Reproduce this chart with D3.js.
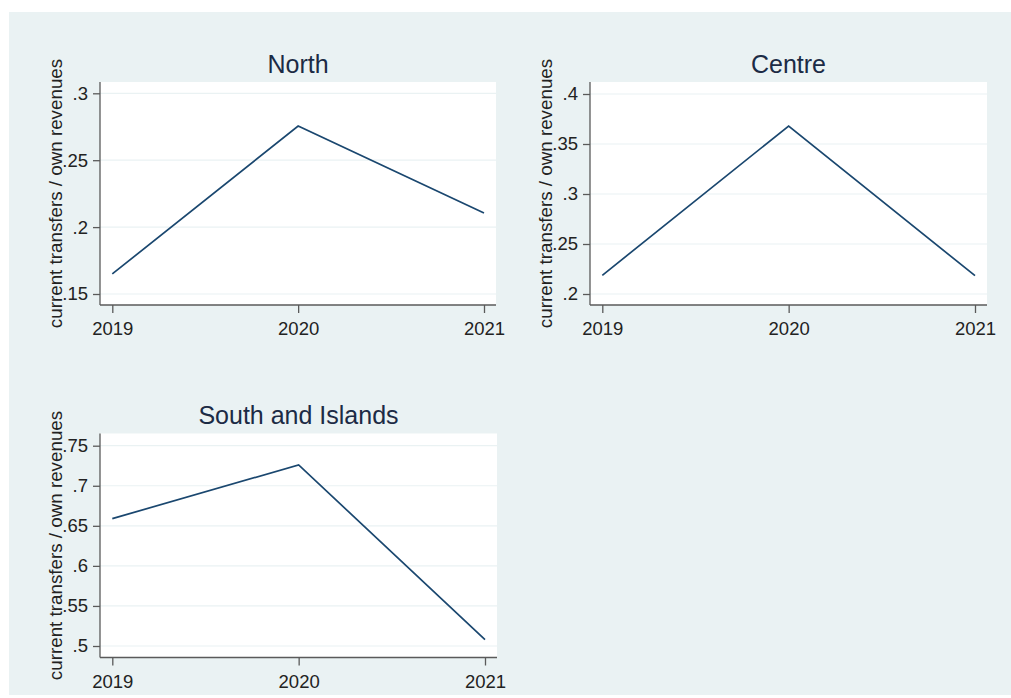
<!DOCTYPE html>
<html>
<head>
<meta charset="utf-8">
<script src="https://cdn.jsdelivr.net/npm/d3@7"></script>
<style>
  html, body { margin: 0; padding: 0; background: #ffffff; }
  svg { display: block; }
  text { font-family: "Liberation Sans", Arial, sans-serif; }
</style>
</head>
<body>
<svg id="chart" width="1011" height="698"></svg>
<script>
// Ratio of current transfers to own revenues, by macro-area
const years = [2019, 2020, 2021];
const regions = ["North", "Centre", "South and Islands"];
const northValues = [0.165, 0.2755, 0.2105];
const centreValues = [0.2187, 0.368, 0.2183];
const southValues = [0.659, 0.726, 0.508];
const northTicks = [0.15, 0.2, 0.25, 0.3];
const centreTicks = [0.2, 0.25, 0.3, 0.35, 0.4];
const southTicks = [0.5, 0.55, 0.6, 0.65, 0.7, 0.75];
const yTitle = "current transfers / own revenues";

// Panel layout (plot region boxes and the pixel span of the end ticks)
const panels = [
  { name: regions[0], values: northValues, ticks: northTicks,
    left: 100, top: 82, right: 496, bottom: 305, yLo: 294, yHi: 93.3 },
  { name: regions[1], values: centreValues, ticks: centreTicks,
    left: 590, top: 82, right: 987, bottom: 305, yLo: 294, yHi: 94 },
  { name: regions[2], values: southValues, ticks: southTicks,
    left: 100, top: 433.5, right: 497, bottom: 657.5, yLo: 646, yHi: 445.7 }
];

const svg = d3.select("#chart");

// Graph region background
svg.append("rect")
  .attr("x", 9).attr("y", 12)
  .attr("width", 1002).attr("height", 683)
  .attr("fill", "#eaf2f3");

const fmt = v => d3.format(".2~f")(v).replace(/^0/, "");

panels.forEach(p => {
  const g = svg.append("g");
  const x = d3.scalePoint().domain(years).range([p.left + 12.3, p.right - 12]);
  const t = p.ticks;
  const y = d3.scaleLinear().domain([t[0], t[t.length - 1]]).range([p.yLo, p.yHi]);

  // plot region
  g.append("rect")
    .attr("x", p.left).attr("y", p.top)
    .attr("width", p.right - p.left).attr("height", p.bottom - p.top)
    .attr("fill", "#ffffff");

  // horizontal grid
  g.selectAll("line.grid").data(t).join("line")
    .attr("class", "grid")
    .attr("x1", p.left).attr("x2", p.right)
    .attr("y1", d => y(d)).attr("y2", d => y(d))
    .attr("stroke", "#eaf2f3").attr("stroke-width", 1.2);

  // y axis
  const yAxis = d3.axisLeft(y).tickValues(t).tickFormat(fmt).tickSize(7).tickPadding(5);
  const ya = g.append("g").attr("transform", `translate(${p.left},0)`).call(yAxis);
  ya.select(".domain").remove();
  ya.append("line")
    .attr("x1", 0).attr("x2", 0).attr("y1", p.top).attr("y2", p.bottom)
    .attr("stroke", "#5a5a5a").attr("stroke-width", 1.3);
  ya.selectAll(".tick line").attr("stroke", "#5a5a5a").attr("stroke-width", 1.3);
  ya.selectAll(".tick text")
    .attr("fill", "#222").attr("font-size", "18.5px")
    .attr("font-family", "'Liberation Sans', Arial, sans-serif");

  // x axis
  const xAxis = d3.axisBottom(x).tickValues(years).tickFormat(d3.format("d")).tickSize(8).tickPadding(9);
  const xa = g.append("g").attr("transform", `translate(0,${p.bottom})`).call(xAxis);
  xa.select(".domain").remove();
  xa.append("line")
    .attr("x1", p.left).attr("x2", p.right).attr("y1", 0).attr("y2", 0)
    .attr("stroke", "#5a5a5a").attr("stroke-width", 1.3);
  xa.selectAll(".tick line").attr("stroke", "#5a5a5a").attr("stroke-width", 1.3);
  xa.selectAll(".tick text")
    .attr("fill", "#222").attr("font-size", "18.5px")
    .attr("font-family", "'Liberation Sans', Arial, sans-serif");

  // series line
  const line = d3.line().x((d, i) => x(years[i])).y(d => y(d));
  g.append("path")
    .datum(p.values)
    .attr("d", line)
    .attr("fill", "none")
    .attr("stroke", "#1a476f")
    .attr("stroke-width", 1.7)
    .attr("stroke-linejoin", "miter");

  // panel title
  g.append("text")
    .attr("x", (p.left + p.right) / 2)
    .attr("y", p.top - 9.5)
    .attr("text-anchor", "middle")
    .attr("font-size", "25px")
    .attr("fill", "#1c2b45")
    .text(p.name);

  // y axis title
  g.append("text")
    .attr("transform", `translate(${p.left - 38},${(p.top + p.bottom) / 2}) rotate(-90)`)
    .attr("text-anchor", "middle")
    .attr("font-size", "18.8px")
    .attr("fill", "#222")
    .text(yTitle);
});
</script>
</body>
</html>
